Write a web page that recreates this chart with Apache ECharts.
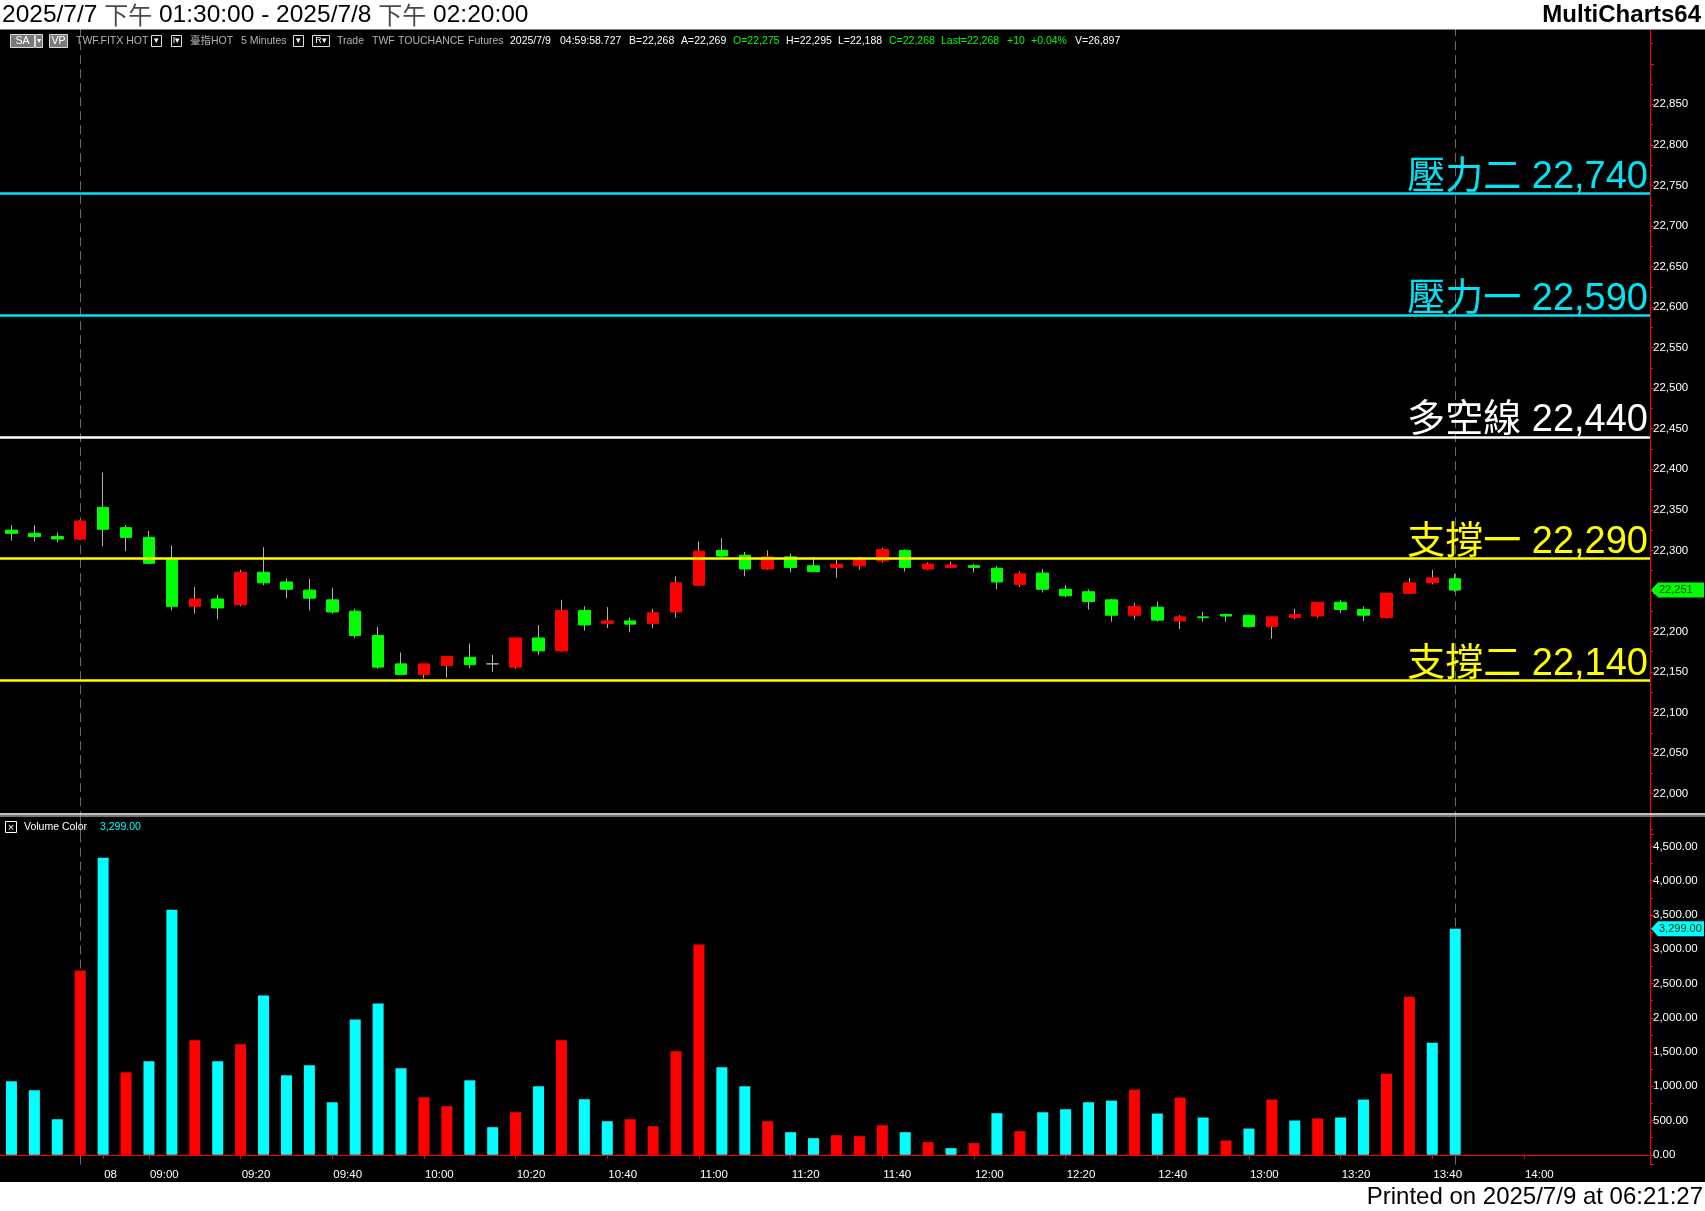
<!DOCTYPE html>
<html><head><meta charset="utf-8">
<script src="https://cdn.jsdelivr.net/npm/echarts@6/dist/echarts.min.js"></script>
<style>html,body{margin:0;padding:0;background:#000;overflow:hidden}#c{width:1705px;height:1211px}</style>
</head><body><div id="c"></div>
<script>
// ---------------- DATA ----------------
const categories = ['04:45','04:50','04:55','05:00','08:50','08:55','09:00','09:05','09:10','09:15','09:20','09:25','09:30','09:35','09:40','09:45','09:50','09:55','10:00','10:05','10:10','10:15','10:20','10:25','10:30','10:35','10:40','10:45','10:50','10:55','11:00','11:05','11:10','11:15','11:20','11:25','11:30','11:35','11:40','11:45','11:50','11:55','12:00','12:05','12:10','12:15','12:20','12:25','12:30','12:35','12:40','12:45','12:50','12:55','13:00','13:05','13:10','13:15','13:20','13:25','13:30','13:35','13:40','13:45','13:50','13:55','14:00','14:05','14:10','14:15','14:20','14:25'];
const tickCategories = ['08:50','09:00','09:20','09:40','10:00','10:20','10:40','11:00','11:20','11:40','12:00','12:20','12:40','13:00','13:20','13:40','14:00'];
const tickLabels     = ['08','09:00','09:20','09:40','10:00','10:20','10:40','11:00','11:20','11:40','12:00','12:20','12:40','13:00','13:20','13:40','14:00'];
const sessionEnds = ['05:00','13:45'];

const openP  = [22325,22321,22317,22314,22353,22328,22316,22289,22231,22240,22233,22273,22261,22251,22239,22225,22195,22160,22147,22158,22168,22160,22156,22192,22176,22226,22210,22213,22210,22224,22257,22300,22294,22277,22292,22281,22279,22281,22287,22300,22277,22279,22281,22278,22258,22272,22252,22249,22239,22220,22230,22213,22218,22221,22220,22206,22217,22219,22236,22227,22217,22247,22260,22265];
const highP  = [22331,22331,22322,22337,22396,22331,22324,22306,22255,22245,22276,22304,22265,22265,22254,22228,22206,22174,22160,22169,22185,22171,22192,22208,22239,22231,22230,22217,22228,22268,22311,22315,22298,22300,22296,22292,22288,22292,22303,22301,22285,22286,22283,22281,22274,22277,22257,22252,22240,22235,22237,22220,22224,22222,22220,22218,22228,22236,22239,22231,22247,22266,22276,22271];
const lowP   = [22312,22311,22310,22313,22305,22299,22283,22226,22222,22215,22231,22257,22241,22226,22222,22192,22154,22147,22142,22143,22155,22150,22154,22171,22175,22201,22204,22199,22204,22217,22256,22292,22268,22276,22273,22274,22266,22276,22285,22274,22276,22278,22273,22252,22255,22248,22242,22227,22212,22215,22212,22203,22212,22212,22205,22191,22215,22217,22223,22213,22216,22246,22258,22249];
const closeP = [22321,22317,22314,22336,22326,22316,22284,22231,22240,22229,22273,22260,22252,22241,22224,22195,22156,22147,22160,22169,22159,22160,22192,22176,22226,22208,22213,22209,22223,22260,22299,22293,22277,22292,22279,22274,22283,22290,22301,22279,22283,22282,22279,22261,22271,22252,22244,22237,22220,22231,22214,22218,22217,22219,22206,22218,22221,22236,22227,22220,22247,22260,22266,22251];

const volumes = [1073,942,519,2689,4335,1204,1364,3577,1670,1364,1612,2325,1160,1306,767,1976,2209,1262,840,709,1087,403,621,1000,1670,811,490,519,417,1510,3068,1277,1000,490,330,243,286,272,432,330,184,97,170,607,345,621,665,767,791,951,602,835,544,209,383,806,500,529,544,806,1184,2306,1636,3299];
const volumeSide = ['D','D','D','U','D','U','D','D','U','D','U','D','D','D','D','D','D','D','U','U','D','D','U','D','U','D','D','U','U','U','U','D','D','U','D','D','U','U','U','D','U','D','U','D','U','D','D','D','D','U','D','U','D','U','D','U','D','U','D','D','U','U','D','D'];

const levelNames  = ['壓力二','壓力一','多空線','支撐一','支撐二'];
const levelValues = [22740, 22590, 22440, 22290, 22140];
const levelKinds  = ['resist','resist','pivot','support','support'];

const titleParts = ['2025/7/7 ', '下午', ' 01:30:00 - 2025/7/8 ', '下午', ' 02:20:00'];
const printedText = 'Printed on 2025/7/9 at 06:21:27';

// ---------------- STYLE ----------------
const FF = '"Liberation Sans", Arial, "Noto Sans CJK TC", sans-serif';
const RED = '#ff0000', GREEN = '#00ff00', CYAN = '#00ffff', WICK = '#b0b0b0';
const levelColor = {resist:'#00e5f5', pivot:'#ffffff', support:'#ffff00'};
const fmtInt = v => Math.round(v).toLocaleString('en-US');
const fmt2 = v => v.toLocaleString('en-US',{minimumFractionDigits:2, maximumFractionDigits:2});

const chart = echarts.init(document.getElementById('c'), null, {width:1705, height:1211});

const tickSet = new Set(tickCategories);
const dashedLine = {
  symbol:['none','none'], silent:true, animation:false, z:1,
  label:{show:false},
  lineStyle:{color:'#6a6a6a', width:1, type:[9,5]},
  data: sessionEnds.map(c => ({xAxis: c}))
};

const levelMark = levelValues.map((v,i) => ({
  yAxis: v,
  lineStyle:{color: levelColor[levelKinds[i]], width:2.6, type:'solid'},
  label:{show:true, position:'insideEndTop', formatter: levelNames[i] + ' ' + fmtInt(v),
         color: levelColor[levelKinds[i]], fontSize:38, fontFamily:FF, distance:[2,-3]}
}));

const option = {
  backgroundColor:'#000',
  animation:false,
  grid:[
    {left:0, top:23.2, width:1650, height:811},
    {left:0, top:816.5, width:1650, height:348.1}
  ],
  xAxis:[
    {type:'category', gridIndex:0, data:categories, boundaryGap:true, show:false},
    {type:'category', gridIndex:1, data:categories, boundaryGap:true,
     axisLine:{show:true, lineStyle:{color:RED, width:1}},
     axisTick:{show:true, alignWithLabel:true, length:4, lineStyle:{color:RED},
               interval:(i,v)=>tickSet.has(v)},
     axisLabel:{show:true, color:'#ffffff', fontSize:11.5, fontFamily:FF, margin:4, align:'left',
                padding:[0,0,0,1],
                interval:(i,v)=>tickSet.has(v),
                formatter:v => tickLabels[tickCategories.indexOf(v)] || ''},
     splitLine:{show:false}}
  ],
  yAxis:[
    {type:'value', gridIndex:0, position:'right', min:21950, max:22950, interval:50,
     axisLine:{show:true, lineStyle:{color:RED, width:1}},
     axisTick:{show:true, length:4, lineStyle:{color:RED}},
     minorTick:{show:true, splitNumber:2, length:3, lineStyle:{color:RED}},
     axisLabel:{color:'#ffffff', fontSize:11.5, fontFamily:FF, margin:3,
                formatter:v => (v>=22000 && v<=22850) ? fmtInt(v) : ''},
     splitLine:{show:false}},
    {type:'value', gridIndex:1, position:'right', min:-143, max:4937, splitNumber:10,
     axisLine:{show:true, lineStyle:{color:RED, width:1}},
     axisTick:{show:true, length:4, lineStyle:{color:RED}},
     minorTick:{show:true, splitNumber:2, length:3, lineStyle:{color:RED}},
     axisLabel:{color:'#ffffff', fontSize:11.5, fontFamily:FF, margin:3,
                formatter:v => (v>=0 && v<=4500 && Math.abs(v%500)<1e-6) ? fmt2(v) : ''},
     splitLine:{show:false}}
  ],
  series:[
    {type:'candlestick', name:'wick', xAxisIndex:0, yAxisIndex:0, barWidth:1, silent:true, z:2,
     data: openP.map((o,i)=>[o, closeP[i], lowP[i], highP[i]]),
     itemStyle:{color:WICK, color0:WICK, borderColor:WICK, borderColor0:WICK, borderColorDoji:WICK, borderWidth:1},
     markLine: dashedLine},
    {type:'candlestick', name:'body', xAxisIndex:0, yAxisIndex:0, barWidth:12, silent:true, z:3,
     data: openP.map((o,i)=>[o, closeP[i], Math.min(o,closeP[i]), Math.max(o,closeP[i])]),
     itemStyle:{color:RED, color0:GREEN, borderColor:RED, borderColor0:GREEN, borderColorDoji:WICK, borderWidth:1},
     markLine:{symbol:['none','none'], silent:true, animation:false, z:6, data: levelMark}},
    {type:'bar', name:'vol', xAxisIndex:1, yAxisIndex:1, barWidth:11, silent:true, z:3,
     data: volumes.map((v,i)=>({value:v, itemStyle:{color: volumeSide[i]==='U'?RED:CYAN}})),
     markLine: dashedLine}
  ]
};
chart.setOption(option);

// ---------------- DECORATIONS ----------------
function T(x,y,text,fill,size,extra){
  return Object.assign({type:'text', x:x, y:y, z:50,
    style:Object.assign({text:text, fill:fill, font:size+'px '+FF, align:'left', verticalAlign:'middle'}, extra||{})});
}
function R(x,y,w,h,fill,stroke,z){
  return {type:'rect', z:z||50, shape:{x:x,y:y,width:w,height:h}, style:{fill:fill, stroke:stroke||null, lineWidth:1}};
}
const g = [];
// header & footer
g.push(R(0,0,1705,29.5,'#ffffff',null,100));
g.push({type:'text', x:2, y:15, z:101, style:{
  text: titleParts.map((p,i)=> i%2===1 ? '{c|'+p+'}' : '{a|'+p+'}').join(''),
  rich:{a:{fill:'#000', font:'24.5px '+FF}, c:{fill:'#4a4a4a', font:'24px "Noto Sans CJK TC", sans-serif'}},
  verticalAlign:'middle'}});
g.push(T(1701,15,'MultiCharts64','#000',24,{align:'right', font:'bold 24px '+FF}));
g[g.length-1].z = 101;
g.push(R(0,1182,1705,29,'#ffffff',null,100));
g.push(T(1703,1197,printedText,'#000',24,{align:'right'}));
g[g.length-1].z = 101;
// panel separator
g.push({type:'line', z:90, shape:{x1:0,y1:814,x2:1705,y2:814}, style:{stroke:'#ffffff', lineWidth:1.5}});
g.push({type:'line', z:90, shape:{x1:0,y1:816,x2:1705,y2:816}, style:{stroke:'#9a9a9a', lineWidth:1.5}});
// info bar
const IY = 41, IS = 10.5;
g.push(R(10.5,34.5,24,13,'#7a7a7a','#d8d8d8'));
g.push(T(22.5,IY,'SA','#fff',IS,{align:'center'}));
g.push(R(35.5,34.5,7,13,'#7a7a7a','#d8d8d8'));
g.push(T(39,IY,'▾','#fff',8,{align:'center'}));
g.push(R(49.5,34.5,18,13,'#7a7a7a','#d8d8d8'));
g.push(T(58.5,IY,'VP','#fff',IS,{align:'center'}));
[[151.5,10,'▾'],[171.5,10,'I▾'],[293.5,10,'▾'],[312.5,17,'R▾']].forEach(b=>{
  g.push(R(b[0],35.5,b[1],11,'#000','#e0e0e0'));
  g.push(T(b[0]+b[1]/2,IY,b[2],'#fff',9,{align:'center'}));
});
const GRAY='#b4b4b4', WH='#ffffff', GR='#00ff00';
[[76,'TWF.FITX HOT',GRAY],[190,'臺指HOT',GRAY],[241,'5 Minutes',GRAY],[337,'Trade',GRAY],[372,'TWF',GRAY],
 [398,'TOUCHANCE',GRAY],[468,'Futures',GRAY],[510,'2025/7/9',WH],[560,'04:59:58.727',WH],[629,'B=22,268',WH],
 [681,'A=22,269',WH],[733,'O=22,275',GR],[786,'H=22,295',WH],[838,'L=22,188',WH],[889,'C=22,268',GR],
 [941,'Last=22,268',GR],[1007,'+10',GR],[1031,'+0.04%',GR],[1075,'V=26,897',WH]].forEach(t=>{
  g.push(T(t[0],IY,t[1],t[2],IS));
});
// volume indicator label
g.push(R(5.5,821.5,11,11,'#000','#ffffff'));
g.push(T(11,827.5,'×','#fff',11,{align:'center'}));
g.push(T(24,827.5,'Volume Color','#ffffff',IS));
g.push(T(100,827.5,fmt2(volumes[volumes.length-1]),CYAN,IS));
// last value tags
const lastClose = closeP[closeP.length-1];
const yP = chart.convertToPixel({yAxisIndex:0}, lastClose);
const yV = chart.convertToPixel({yAxisIndex:1}, volumes[volumes.length-1]);
function tag(y, color, text){
  g.push({type:'polygon', z:60, shape:{points:[[1651,y],[1658,y-7.5],[1704,y-7.5],[1704,y+7.5],[1658,y+7.5]]}, style:{fill:color}});
  g.push(T(1659,y,text,'#003300',11));
  g[g.length-1].z = 61;
}
tag(yP, GREEN, fmtInt(lastClose));
tag(yV, CYAN, fmt2(volumes[volumes.length-1]));
chart.setOption({graphic: g});
</script></body></html>
